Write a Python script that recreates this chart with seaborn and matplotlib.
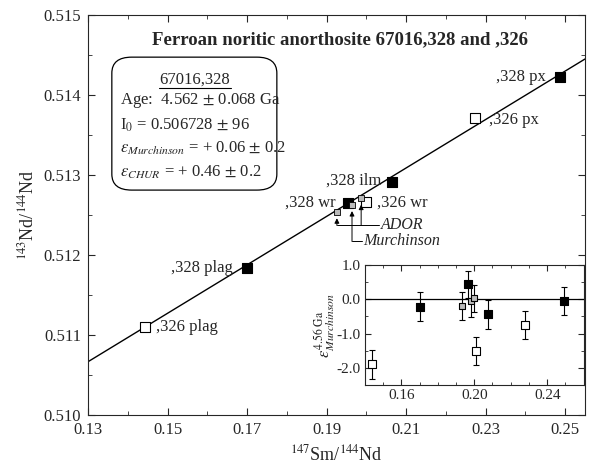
import numpy as np
import pandas as pd
import matplotlib
matplotlib.use("Agg")
import matplotlib.pyplot as plt
import seaborn as sns
from matplotlib.patches import FancyBboxPatch
from matplotlib.ticker import MultipleLocator

# main isochron data (147Sm/144Nd, 143Nd/144Nd)
labels = [",326 plag", ",328 plag", ",328 wr", ",326 wr", ",328 ilm", ",326 px", ",328 px"]
sm_nd = [0.1443, 0.1700, 0.1954, 0.1999, 0.2065, 0.2274, 0.2487]
nd_nd = [0.51110, 0.51184, 0.51265, 0.51266, 0.51291, 0.51372, 0.51423]
kind = ["open", "filled", "filled", "open", "filled", "open", "filled"]

# chondrite points
chon_names = ["ADOR", "Murchinson", "ADOR"]
chon_x = [0.1926, 0.1964, 0.1987]
chon_y = [0.51254, 0.51263, 0.51271]

# isochron fit
I0 = 0.506728
slope = 0.03029
x_range = [0.13, 0.255]

# inset: epsilon values
eps_x = [0.1438, 0.1701, 0.1932, 0.1964, 0.1980, 0.1997, 0.2008, 0.2074, 0.2280, 0.2490]
eps_y = [-1.90, -0.22, -0.20, 0.44, -0.06, 0.03, -1.50, -0.44, -0.74, -0.06]
eps_err = [0.42, 0.42, 0.41, 0.40, 0.47, 0.40, 0.41, 0.43, 0.41, 0.41]
eps_kind = ["open", "filled", "small", "filled", "small", "small", "open", "filled", "open", "filled"]

sns.set_style("ticks")
plt.rcParams["font.family"] = ["Liberation Serif", "DejaVu Serif"]
plt.rcParams["mathtext.fontset"] = "stix"
plt.rcParams["xtick.direction"] = "in"
plt.rcParams["ytick.direction"] = "in"

fig = plt.figure(figsize=(6.08, 4.74), dpi=100)
ax = fig.add_axes([0.1447, 0.1245, 0.8175, 0.8435])

df = pd.DataFrame({"x": sm_nd, "y": nd_nd, "kind": kind, "label": labels})
line = pd.DataFrame({"x": x_range, "y": [I0 + slope * v for v in x_range]})
sns.lineplot(data=line, x="x", y="y", color="black", lw=1.0, ax=ax)

fill = df[df["kind"] == "filled"]
opn = df[df["kind"] == "open"]
sns.scatterplot(data=fill, x="x", y="y", marker="s", s=45, color="black",
                edgecolor="black", linewidth=0.8, ax=ax, zorder=3)
sns.scatterplot(data=opn, x="x", y="y", marker="s", s=45, color="white",
                edgecolor="black", linewidth=0.8, ax=ax, zorder=3)
sns.scatterplot(x=chon_x, y=chon_y, marker="s", s=16, color="#bbbbbb",
                edgecolor="black", linewidth=0.6, ax=ax, zorder=4)

offsets = {",326 plag": (8, 0, "left"), ",328 plag": (-10, 0, "right"),
           ",328 wr": (-9, 0, "right"), ",326 wr": (8, 0, "left"),
           ",328 ilm": (-8, 1, "right"), ",326 px": (10, -2, "left"),
           ",328 px": (-10, 0, "right")}
for lab, xv, yv in zip(labels, sm_nd, nd_nd):
    dx, dy, ha = offsets[lab]
    ax.annotate(lab, (xv, yv), xytext=(dx, dy), textcoords="offset points",
                ha=ha, va="center", fontsize=12)

# arrows pointing to chondrite points
arrow_base = [0.512370, 0.512170, 0.512370]
for xv, yv, yb in zip(chon_x, chon_y, arrow_base):
    ax.annotate("", xy=(xv, yv - 0.00008), xytext=(xv, yb),
                arrowprops=dict(arrowstyle="-|>", lw=0.7, color="black",
                                mutation_scale=7, shrinkA=0, shrinkB=0))
ax.plot([chon_x[0], 0.2033], [arrow_base[0]] * 2, color="black", lw=0.7)
ax.plot([chon_x[1], 0.1989], [arrow_base[1]] * 2, color="black", lw=0.7)
ax.text(0.2037, arrow_base[0], "ADOR", style="italic", fontsize=11.5, va="center")
ax.text(0.1993, arrow_base[1], "Murchinson", style="italic", fontsize=11.5, va="center")

ax.set_xlim(0.13, 0.255)
ax.set_ylim(0.510, 0.515)
ax.xaxis.set_minor_locator(MultipleLocator(0.01))
ax.yaxis.set_major_locator(MultipleLocator(0.001))
ax.yaxis.set_minor_locator(MultipleLocator(0.0005))
ax.set_xticks(np.arange(0.13, 0.2551, 0.02))
ax.xaxis.set_major_formatter(matplotlib.ticker.FormatStrFormatter("%.2f"))
ax.yaxis.set_major_formatter(matplotlib.ticker.FormatStrFormatter("%.3f"))
ax.tick_params(which="both", top=True, right=True, labelsize=12)
ax.tick_params(which="major", length=5, pad=5)
ax.tick_params(which="minor", length=3)
ax.set_xlabel(r"$^{147}$Sm/$^{144}$Nd", fontsize=13, labelpad=5)
ax.set_ylabel(r"$^{143}$Nd/$^{144}$Nd", fontsize=13, labelpad=4)

ax.text(0.507, 0.9375, "Ferroan noritic anorthosite 67016,328 and ,326",
        transform=ax.transAxes, ha="center", va="center", fontsize=13.5, fontweight="bold")

box = FancyBboxPatch((0.048, 0.5625), 0.332, 0.3325, transform=ax.transAxes,
                     boxstyle="round,pad=0,rounding_size=0.04", fc="white",
                     ec="black", lw=0.9, zorder=2)
ax.add_patch(box)
ax.text(0.215, 0.8375, "67016,328", transform=ax.transAxes, ha="center",
        va="center", fontsize=12, zorder=3)
ax.plot([0.143, 0.287], [0.818, 0.818], transform=ax.transAxes, color="black", lw=0.8, zorder=3)
box_lines = [(0.7875, r"Age:  4.562 $\pm$ 0.068 Ga"),
             (0.725, r"I$_0$ = 0.506728 $\pm$ 96"),
             (0.6675, r"$\varepsilon_{Murchinson}$ = + 0.06 $\pm$ 0.2"),
             (0.6075, r"$\varepsilon_{CHUR}$ = + 0.46 $\pm$ 0.2")]
for yy, s in box_lines:
    ax.text(0.064, yy, s, transform=ax.transAxes, ha="left", va="center",
            fontsize=12, zorder=3)

# inset
ins = fig.add_axes([0.600, 0.1878, 0.360, 0.253])
ins.axhline(0, color="black", lw=0.9)
edf = pd.DataFrame({"x": eps_x, "y": eps_y, "err": eps_err, "kind": eps_kind})
ins.errorbar(edf["x"], edf["y"], yerr=edf["err"], fmt="none", ecolor="black",
             elinewidth=0.8, capsize=2, capthick=0.8, zorder=2)
styles = {"filled": (40, "black"), "open": (40, "white"), "small": (16, "#bbbbbb")}
for k, (sz, fc) in styles.items():
    sub = edf[edf["kind"] == k]
    sns.scatterplot(data=sub, x="x", y="y", marker="s", s=sz, color=fc,
                    edgecolor="black", linewidth=0.8, ax=ins, zorder=3)
ins.set_xlim(0.14, 0.26)
ins.set_ylim(-2.5, 1.0)
ins.xaxis.set_minor_locator(MultipleLocator(0.01))
ins.set_xticks([0.16, 0.20, 0.24])
ins.yaxis.set_major_locator(MultipleLocator(1.0))
ins.yaxis.set_minor_locator(MultipleLocator(0.5))
ins.xaxis.set_major_formatter(matplotlib.ticker.FormatStrFormatter("%.2f"))
ins.yaxis.set_major_formatter(matplotlib.ticker.FormatStrFormatter("%.1f"))
ins.tick_params(which="both", top=True, right=True, labelsize=11)
ins.tick_params(which="major", length=4, pad=3)
ins.tick_params(which="minor", length=2.5)
ins.set_xlabel("")
ins.set_ylabel(r"$\varepsilon^{4.56\ \mathrm{Ga}}_{Murchinson}$", fontsize=12, labelpad=0)

fig.savefig("out.png", dpi=100)
